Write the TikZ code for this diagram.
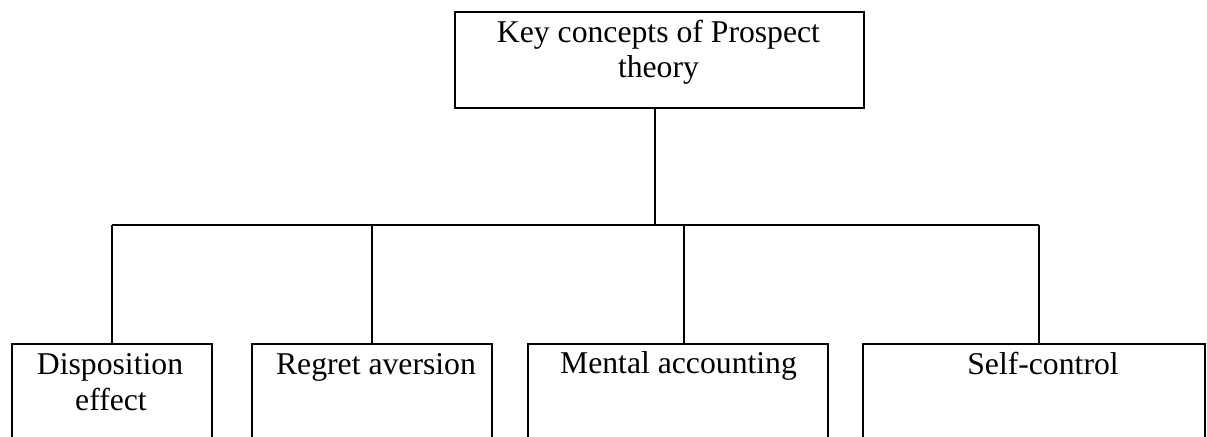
\documentclass[tikz,border=0pt]{standalone}
\usepackage{fontspec}
\setmainfont{Liberation Serif}
\begin{document}
\begin{tikzpicture}[
    x=0.5pt, y=-0.5pt,
    line width=1.25pt,
    box/.style={draw, rectangle, inner sep=0pt},
    txt/.style={anchor=base, inner sep=0pt, font=\fontsize{15.85}{17.75}\selectfont}
  ]
  \useasboundingbox (0,0) rectangle (1207,437);
  \clip (0,0) rectangle (1207,437);
  \fill[white] (0,0) rectangle (1207,437);

  % root box
  \node[box, minimum width=204.5pt, minimum height=48pt] (root) at (659.5,60) {};
  \node[txt] (rootA) at (658.5,43) {Key concepts of Prospect};
  \node[txt] (rootB) at (658.5,78) {theory};

  % child boxes (their lower edges run past the page)
  \node[box, minimum width=100pt, minimum height=63pt] (disp) at (112,407) {};
  \node[box, minimum width=120pt, minimum height=63pt] (regret) at (372,407) {};
  \node[box, minimum width=150pt, minimum height=63pt] (mental) at (678,407) {};
  \node[box, minimum width=171pt, minimum height=63pt] (self) at (1034,407) {};

  \node[txt] (dispA) at (110,375) {Disposition};
  \node[txt] (dispB) at (111,411) {effect};
  \node[txt] (regretT) at (376,375) {Regret aversion};
  \node[txt] (mentalT) at (678.5,374) {Mental accounting};
  \node[txt] (selfT) at (1043,375) {Self-control};

  % bus
  \coordinate (bus0) at (655,225);
  \coordinate (bus1) at (112,225);
  \coordinate (bus2) at (372,225);
  \coordinate (bus3) at (684,225);
  \coordinate (bus4) at (1039,225);

  \draw (bus0 |- root.south) -- (bus0);
  \draw (bus1) -- (bus4);
  \draw (bus1) -- (bus1 |- disp.north);
  \draw (bus2) -- (bus2 |- regret.north);
  \draw (bus3) -- (bus3 |- mental.north);
  \draw (bus4) -- (bus4 |- self.north);
\end{tikzpicture}
\end{document}
